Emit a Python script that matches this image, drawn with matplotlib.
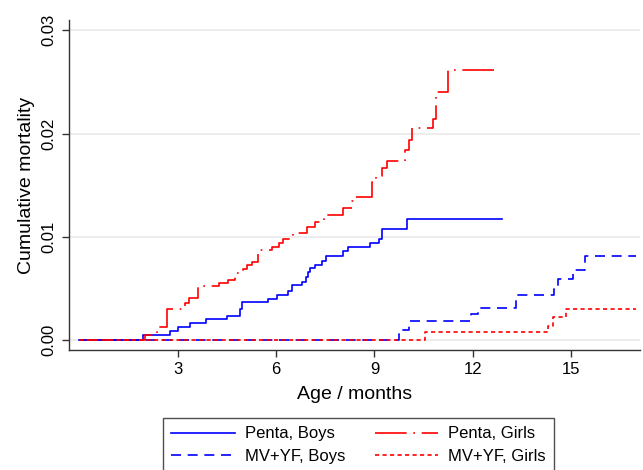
import matplotlib
matplotlib.use('Agg')
import matplotlib.pyplot as plt

plt.rcParams['font.family'] = ['Liberation Sans', 'DejaVu Sans']

# Penta, Boys
pb_t = [0, 1.94, 2.76, 3.02, 3.37, 3.87, 4.51, 4.90, 4.96, 5.75, 6.03, 6.36, 6.47, 6.78, 6.91, 6.97,
        7.03, 7.18, 7.39, 7.52, 8.05, 8.20, 8.86, 9.14, 9.24, 10.00, 12.88]
pb_y = [0, 0.0005, 0.0009, 0.0013, 0.0016, 0.0020, 0.0023, 0.0030, 0.0037, 0.0040, 0.0044, 0.0047,
        0.0053, 0.0056, 0.0061, 0.0066, 0.0070, 0.0073, 0.0077, 0.0081, 0.0086, 0.0090, 0.0094,
        0.0098, 0.0108, 0.0117, 0.0117]

# Penta, Girls
pg_t = [0, 2.00, 2.36, 2.66, 3.22, 3.35, 3.61, 4.27, 4.52, 4.74, 5.00, 5.10, 5.25, 5.45, 5.86,
        6.10, 6.22, 6.52, 6.93, 7.18, 7.46, 8.05, 8.31, 8.42, 8.91, 9.06, 9.22, 9.37, 9.93, 10.06,
        10.15, 10.79, 10.87, 11.25, 12.80]
pg_y = [0, 0.0005, 0.0013, 0.0030, 0.0036, 0.0041, 0.0052, 0.0055, 0.0058, 0.0065, 0.0069, 0.0073,
        0.0076, 0.0087, 0.0090, 0.0094, 0.0098, 0.0104, 0.0109, 0.0114, 0.0121, 0.0128, 0.0135,
        0.0139, 0.0153, 0.0159, 0.0167, 0.0173, 0.0184, 0.0194, 0.0205, 0.0214, 0.0240, 0.0262,
        0.0262]

# MV+YF, Boys
mb_t = [0, 9.75, 10.05, 11.94, 12.16, 13.31, 14.48, 14.60, 15.06, 15.42, 16.97]
mb_y = [0, 0.0010, 0.0018, 0.0025, 0.0031, 0.0044, 0.0052, 0.0059, 0.0068, 0.0081, 0.0081]

# MV+YF, Girls
mg_t = [0, 10.54, 14.30, 14.45, 14.84, 16.97]
mg_y = [0, 0.0008, 0.0014, 0.0022, 0.0030, 0.0030]

xticks = [3, 6, 9, 12, 15]
yticks = [0.00, 0.01, 0.02, 0.03]
ytick_labels = ['0.00', '0.01', '0.02', '0.03']

fig = plt.figure(figsize=(6.43, 4.70), dpi=100)
ax = fig.add_axes([69/643, 1-350/470, 571/643, 330/470])

lw = 1.2
ax.plot(pb_t, pb_y, drawstyle='steps-post', color='#0000ff', lw=lw, label='Penta, Boys')
ax.plot(pg_t, pg_y, drawstyle='steps-post', color='#ff0000', lw=lw, dashes=(19, 4, 1, 4), label='Penta, Girls')
ax.plot(mb_t, mb_y, drawstyle='steps-post', color='#0000ff', lw=lw, dashes=(6, 4), label='MV+YF, Boys')
ax.plot(mg_t, mg_y, drawstyle='steps-post', color='#ff0000', lw=lw, dashes=(2.5, 2), label='MV+YF, Girls')

ax.set_xlim(-0.32, 17.1)
ax.set_ylim(-0.00097, 0.031)
ax.set_xticks(xticks)
ax.set_yticks(yticks)
ax.set_yticklabels(ytick_labels)
for y in yticks:
    ax.axhline(y, color='#eaeaea', lw=1.2, zorder=0)

for s in ['top', 'right']:
    ax.spines[s].set_visible(False)
for s in ['left', 'bottom']:
    ax.spines[s].set_color('#333333')
    ax.spines[s].set_linewidth(1.0)
ax.tick_params(axis='both', direction='out', length=5, width=1, color='#333333', labelsize=12, pad=4)
plt.setp(ax.get_yticklabels(), rotation=90, va='center')

ax.set_xlabel('Age / months', fontsize=14, labelpad=6)
ax.set_ylabel('Cumulative mortality', fontsize=14, labelpad=5)

# legend order: row 1 Penta Boys / Penta Girls, row 2 MV+YF Boys / MV+YF Girls
h, l = ax.get_legend_handles_labels()
order = [0, 2, 1, 3]
leg = fig.legend([h[i] for i in order], [l[i] for i in order], ncol=2, loc='upper left',
                 bbox_to_anchor=(163/643, 1-418/470), fontsize=12, frameon=True, fancybox=False,
                 edgecolor='#222222', handlelength=3.8, handletextpad=0.6, columnspacing=1.8,
                 borderpad=0.5, labelspacing=0.45, borderaxespad=0)
leg.get_frame().set_linewidth(1.0)

fig.savefig('out.png', dpi=100)
